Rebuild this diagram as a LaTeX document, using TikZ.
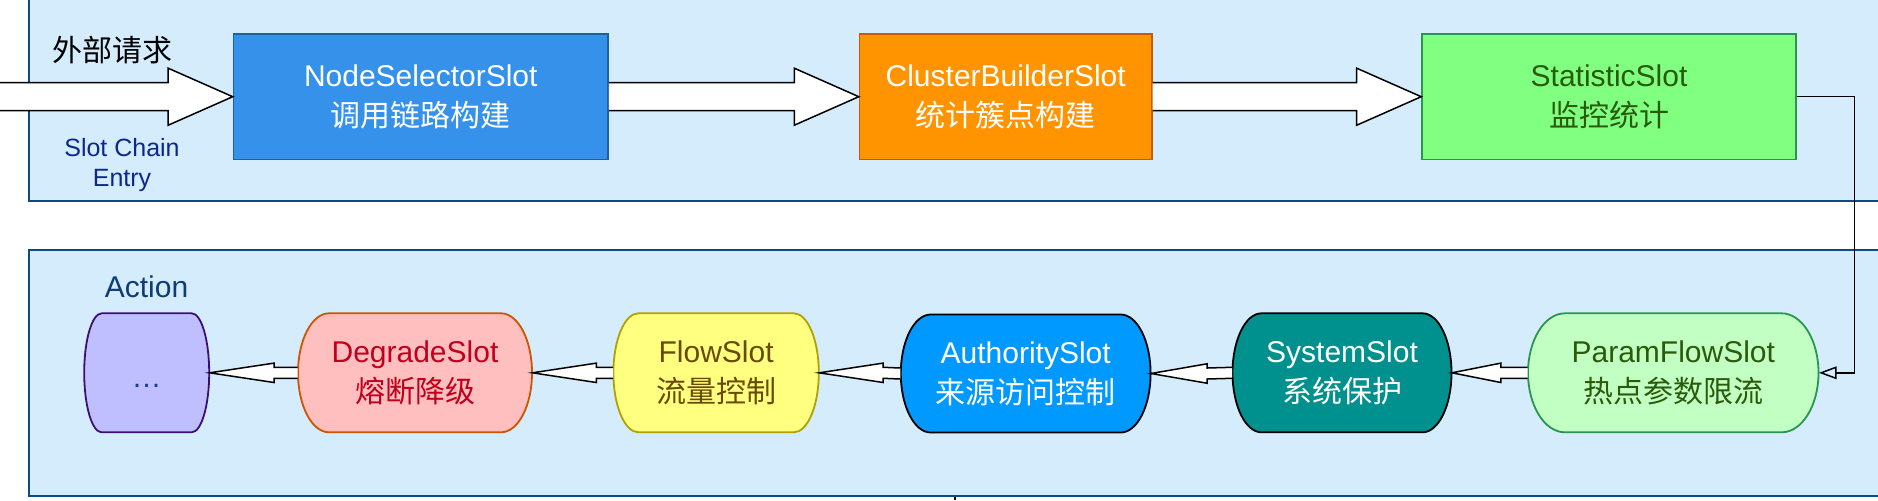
\documentclass[tikz,border=0pt]{standalone}
\usepackage{fontspec}
\setmainfont{Liberation Sans}
\newfontfamily\cjk{Noto Sans CJK SC}
\usetikzlibrary{calc,arrows.meta}
\definecolor{panelfill}{RGB}{213,236,252}
\definecolor{paneldraw}{RGB}{16,74,130}
\definecolor{nsfill}{RGB}{53,145,234}
\definecolor{nsdraw}{RGB}{30,95,165}
\definecolor{cbfill}{RGB}{255,148,0}
\definecolor{cbdraw}{RGB}{196,92,10}
\definecolor{stfill}{RGB}{128,255,128}
\definecolor{stdraw}{RGB}{40,150,75}
\definecolor{sttext}{RGB}{40,92,12}
\definecolor{pffill}{RGB}{194,255,194}
\definecolor{pfdraw}{RGB}{40,150,80}
\definecolor{pftext}{RGB}{42,90,10}
\definecolor{syfill}{RGB}{0,145,143}
\definecolor{aufill}{RGB}{0,153,255}
\definecolor{flfill}{RGB}{255,255,128}
\definecolor{fldraw}{RGB}{176,162,0}
\definecolor{fltext}{RGB}{104,74,0}
\definecolor{dgfill}{RGB}{255,191,191}
\definecolor{dgdraw}{RGB}{204,85,0}
\definecolor{dgtext}{RGB}{192,0,28}
\definecolor{dtfill}{RGB}{191,191,255}
\definecolor{dtdraw}{RGB}{60,16,112}
\definecolor{dttext}{RGB}{26,59,156}
\definecolor{entrycol}{RGB}{12,40,140}
\definecolor{actioncol}{RGB}{13,60,120}
\def\px{0.5pt}
% stadium shape: cx, cy, w, h, rx, fill, draw
\newcommand\stadium[7]{%
  \path[fill=#6, draw=#7, line width=0.9pt]
    ({#1-#3/2+#5},{#2-#4/2}) -- ({#1+#3/2-#5},{#2-#4/2})
    arc[start angle=90, end angle=-90, x radius={#5*\px}, y radius={#4/2*\px}]
    -- ({#1-#3/2+#5},{#2+#4/2})
    arc[start angle=270, end angle=90, x radius={#5*\px}, y radius={#4/2*\px}]
    -- cycle;}
% block arrow: from, to, dir, shaft half, head half, head length
\newcommand\blockarrow[6]{%
  \draw[barrow] ($(#1)+(0,-#4)$) -- ($(#2)+({-(#3)*(#6)},-#4)$)
    -- ($(#2)+({-(#3)*(#6)},-#5)$) -- (#2)
    -- ($(#2)+({-(#3)*(#6)},#5)$) -- ($(#2)+({-(#3)*(#6)},#4)$)
    -- ($(#1)+(0,#4)$);}
\begin{document}
\begin{tikzpicture}[x=0.5pt,y=-0.5pt,
  txt/.style={font=\fontsize{15}{20}\selectfont, align=center, inner sep=0pt},
  box/.style={txt, rectangle, minimum height=125.3*\px, line width=0.8pt},
  slot/.style={txt, rectangle, minimum height=119*\px},
  panel/.style={fill=panelfill, draw=paneldraw, line width=1pt},
  barrow/.style={fill=white, draw=black, line width=0.75pt, line join=miter},
  conn/.style={draw=black, line width=0.75pt, -{Triangle[open,length=8.8pt,width=6.3pt]}}]
\useasboundingbox (0,0) rectangle (1878,500);
\clip (0,0) rectangle (1878,500);
% panels
\path[panel] (29.4,-10) rectangle (1890,200.7);
\path[panel] (29.4,250) rectangle (1890,495.7);
% top row
\node[box, fill=nsfill, draw=nsdraw, text=white, minimum width=374.5*\px] (ns) at (420.75,96.7) {NodeSelectorSlot\\{\cjk 调用链路构建}};
\node[box, fill=cbfill, draw=cbdraw, text=white, minimum width=292.2*\px] (cb) at (1005.7,96.7) {ClusterBuilderSlot\\{\cjk 统计簇点构建}};
\node[box, fill=stfill, draw=stdraw, text=sttext, minimum width=374*\px] (st) at (1609,96.7) {StatisticSlot\\{\cjk 监控统计}};
\node[txt] (ext) at (112,50) {\cjk 外部请求};
\node[txt, font=\fontsize{12.5}{15}\selectfont, text=entrycol] (entrylbl) at (122,165) {Slot Chain\\Entry};
\coordinate (entry) at (-5,96.7);
% bottom row
\stadium{146.7}{372.8}{125}{119}{17.5}{dtfill}{dtdraw}
\node[slot, minimum width=125*\px, text=dttext] (dots) at (146.7,372.8) {\raisebox{-7.5pt}[0pt][0pt]{…}};
\stadium{415}{372.8}{234}{119}{31}{dgfill}{dgdraw}
\node[slot, minimum width=234*\px, text=dgtext] (dg) at (415,372.8) {DegradeSlot\\{\cjk 熔断降级}};
\stadium{716.1}{372.8}{205.4}{119}{25}{flfill}{fldraw}
\node[slot, minimum width=205.4*\px, text=fltext] (fl) at (716.1,372.8) {FlowSlot\\{\cjk 流量控制}};
\stadium{1025.7}{373.5}{249.8}{118}{30}{aufill}{black}
\node[slot, minimum width=249.8*\px, text=white] (au) at (1025.7,373.5) {AuthoritySlot\\{\cjk 来源访问控制}};
\stadium{1342}{372.8}{219}{119}{29}{syfill}{black}
\node[slot, minimum width=219*\px, text=white] (sy) at (1342,372.8) {SystemSlot\\{\cjk 系统保护}};
\stadium{1673.25}{372.8}{290.5}{119}{37}{pffill}{pfdraw}
\node[slot, minimum width=290.5*\px, text=pftext] (pf) at (1673.25,372.8) {ParamFlowSlot\\{\cjk 热点参数限流}};
\node[txt, text=actioncol] (action) at (146.5,287) {Action};
% top block arrows
\blockarrow{entry}{ns.west}{1}{14}{28.5}{64.5}
\blockarrow{ns.east}{cb.west}{1}{14}{28.5}{64.5}
\blockarrow{cb.east}{st.west}{1}{14}{28.5}{64.5}
% bottom block arrows
\blockarrow{pf.west}{sy.east}{-1}{5.5}{9.7}{49}
\blockarrow{sy.west}{au.east}{-1}{5.5}{9.7}{56}
\blockarrow{au.west}{fl.east}{-1}{5.5}{9.7}{64}
\blockarrow{fl.west}{dg.east}{-1}{5.5}{9.7}{64}
\blockarrow{dg.west}{dots.east}{-1}{5.5}{9.7}{64.5}
% connector between rows
\coordinate (turn) at (1854.3,96.7);
\draw[conn] (st.east) -- (turn) -- (turn |- pf.east) -- (pf.east);
% small mark below lower panel
\draw[line width=1pt] (954.5,497) -- (954.5,500);
\end{tikzpicture}
\end{document}
